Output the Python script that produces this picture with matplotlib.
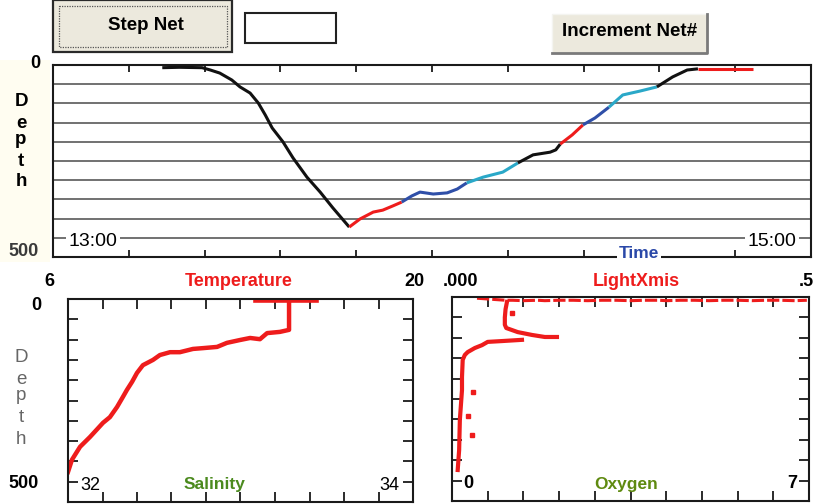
import numpy as np
import matplotlib
matplotlib.use('Agg')
import matplotlib.pyplot as plt
from matplotlib.patches import Rectangle

W, H = 825, 504
plt.rcParams['font.family'] = ['Liberation Sans', 'DejaVu Sans']

# net cast: minutes after 13:00 vs depth (m)
cast_time = [17.3, 20.0, 23.6, 24.9, 26.4, 28.3, 29.6, 31.2, 32.5, 33.6, 34.7, 36.4,
             38.0, 40.2, 42.3, 44.3, 46.9, 48.6, 50.7, 52.2, 53.8, 55.2, 56.8, 58.1,
             60.2, 62.4, 64.0, 65.5, 68.1, 71.2, 73.6, 76.0, 78.7, 79.6, 80.3, 82.2,
             83.9, 85.8, 88.0, 90.2, 92.9, 95.6, 98.1, 100.4, 102.1, 110.8]
cast_depth = [7, 6, 7, 13, 21, 39, 57, 73, 99, 130, 164, 200,
              242, 292, 331, 372, 422, 401, 383, 378, 367, 357, 341, 331,
              336, 333, 323, 307, 292, 279, 255, 234, 227, 221, 206, 182,
              156, 138, 110, 78, 68, 57, 31, 13, 10, 10]
# index where each net segment ends, and its colour
seg_ends = [16, 21, 27, 30, 34, 36, 38, 41, 44, 45]
seg_colors = ['#111111', '#ee1c1c', '#2f4fa8', '#2aa8c8', '#111111',
              '#ee1c1c', '#2f4fa8', '#2aa8c8', '#111111', '#ee1c1c']

# temperature profile
surf_temp = [13.6, 14.0, 14.5, 15.0, 15.5, 16.1]
surf_temp_depth = [4, 4, 4, 4, 4, 4]
prof_temp = [14.97, 14.97, 14.97, 14.60, 14.08, 13.79, 13.39, 12.98, 12.45, 12.05,
             11.48, 11.07, 10.54, 10.14, 9.73, 9.45, 9.04, 8.80, 8.60, 8.39, 8.23,
             7.99, 7.70, 7.42, 6.89, 6.49, 6.16, 6.0]
prof_temp_depth = [5, 39, 76, 81, 84, 99, 96, 101, 108, 118,
                   121, 123, 131, 131, 138, 150, 163, 182, 204, 224, 241,
                   266, 291, 305, 340, 364, 396, 426]

# light transmission
surf_light = [0.035, 0.075, 0.085, 0.10, 0.12, 0.13, 0.15, 0.17, 0.19, 0.21, 0.23,
              0.25, 0.27, 0.29, 0.30, 0.32, 0.34, 0.36, 0.38, 0.40, 0.42, 0.44,
              0.46, 0.48, 0.497]
surf_light_depth = [3, 8, 8, 9, 8, 9, 8, 8, 9, 8, 8,
                    9, 8, 8, 9, 8, 8, 9, 8, 8, 9, 8,
                    8, 9, 8]
upper_light = [0.077, 0.075, 0.074, 0.074, 0.076, 0.092, 0.112, 0.130, 0.147]
upper_light_depth = [12, 30, 50, 68, 76, 86, 93, 98, 98]
lower_light = [0.098, 0.070, 0.050, 0.042, 0.032, 0.022, 0.018, 0.015, 0.014,
               0.014, 0.011, 0.010, 0.008]
lower_light_depth = [105, 108, 110, 118, 125, 135, 142, 154, 196,
                     228, 301, 375, 424]
stray_light = [0.084, 0.029, 0.022, 0.028]
stray_light_depth = [39, 233, 292, 338]

RED = '#ee1c1c'

fig = plt.figure(figsize=(W / 100, H / 100), dpi=100)
fig.patch.set_facecolor('white')


def box(x0, y0, x1, y1, **kw):
    return fig.add_axes([x0 / W, 1 - y1 / H, (x1 - x0) / W, (y1 - y0) / H], **kw)


def frame(ax, tick_len):
    for s in ax.spines.values():
        s.set_linewidth(1.5)
        s.set_color('#1a1a1a')
    ax.tick_params(direction='in', length=tick_len, width=1.3, color='#1a1a1a',
                   labelbottom=False, labelleft=False, labeltop=False, labelright=False)


# depth vs time
ax = box(53, 65, 811, 257)
ax.set_xlim(0, 120)
ax.set_ylim(500, 0)
ax.set_xticks(np.linspace(0, 120, 11)[1:-1])
ax.set_yticks(np.arange(50, 500, 50))
ax.grid(axis='y', color='#4a4a4a', lw=1.1)
frame(ax, 5)
ax.tick_params(top=True, bottom=True, left=False, right=False)
start = 0
for end, c in zip(seg_ends, seg_colors):
    ax.plot(cast_time[start:end + 1], cast_depth[start:end + 1], color=c, lw=2.2,
            solid_capstyle='butt', zorder=3)
    start = end

# temperature / salinity
ax_t = box(68, 299, 413, 502)
ax_t.set_xlim(6, 20)
ax_t.set_ylim(500, 0)
ax_t.set_xticks(np.linspace(6, 20, 11)[1:-1])
ax_t.set_yticks(np.arange(50, 500, 50))
frame(ax_t, 7)
ax_t.tick_params(top=True, bottom=True, left=True, right=True)
ax_t.plot(surf_temp, surf_temp_depth, color=RED, lw=2.6)
ax_t.plot(prof_temp, prof_temp_depth, color=RED, lw=3.2, solid_joinstyle='round')

# light transmission / oxygen
ax_o = box(452, 297, 809, 501)
ax_o.set_xlim(0, 0.5)
ax_o.set_ylim(500, 0)
ax_o.set_xticks(np.linspace(0, 0.5, 11)[1:-1])
ax_o.set_yticks(np.arange(50, 500, 50))
frame(ax_o, 7)
ax_o.tick_params(top=True, bottom=True, left=True, right=True)
ax_o.plot(surf_light, surf_light_depth, color=RED, lw=2.2, ls=(0, (4, 1)))
ax_o.plot(upper_light, upper_light_depth, color=RED, lw=3, solid_joinstyle='round')
ax_o.plot(lower_light, lower_light_depth, color=RED, lw=3, solid_joinstyle='round')
ax_o.plot(stray_light, stray_light_depth, 's', color=RED, ms=2.5)

# overlay in pixel coordinates for the controls and labels
ov = fig.add_axes([0, 0, 1, 1], zorder=10)
ov.set_xlim(0, W)
ov.set_ylim(H, 0)
ov.axis('off')
ov.patch.set_alpha(0)

ov.add_patch(Rectangle((0, 60), 50, 202, facecolor='#fffdf1', edgecolor='none'))

# buttons
ov.add_patch(Rectangle((53, 0), 179, 52, facecolor='#ece9dd', edgecolor='#2a2a2a', lw=1.6))
ov.add_patch(Rectangle((59, 6), 168, 41, facecolor='none', edgecolor='#555555',
                       lw=0.9, ls=(0, (1, 1))))
ov.text(146, 26, 'Step Net', ha='center', va='center', fontsize=13.5, fontweight='bold')
ov.add_patch(Rectangle((245, 13), 91, 30, facecolor='white', edgecolor='#222222', lw=1.5))
ov.add_patch(Rectangle((552, 14), 155, 39, facecolor='#ece9dd', edgecolor='#f4f4f0', lw=1))
ov.plot([552, 707, 707], [53, 53, 14], color='#7a7a7a', lw=2)
ov.text(630, 32, 'Increment Net#', ha='center', va='center', fontsize=13.5, fontweight='bold')

wb = dict(facecolor='white', edgecolor='none', pad=1.5)

# top panel labels
ov.text(35, 63, '0', ha='center', va='center', fontsize=13, fontweight='bold')
ov.text(24, 251, '500', ha='center', va='center', fontsize=13, fontweight='bold', color='#3a3a3a')
for ch, y in zip('Depth', [102, 124, 140, 162, 181]):
    ov.text(21, y, ch, ha='center', va='center', fontsize=13.5, fontweight='bold')
ov.text(93, 241, '13:00', ha='center', va='center', fontsize=14, bbox=wb)
ov.text(772, 241, '15:00', ha='center', va='center', fontsize=14, bbox=wb)
ov.text(639, 253, 'Time', ha='center', va='center', fontsize=12.5, fontweight='bold',
        color='#2a48a8', bbox=wb)

# temperature panel labels
ov.text(49, 281, '6', ha='center', va='center', fontsize=13, fontweight='bold')
ov.text(239, 281, 'Temperature', ha='center', va='center', fontsize=13,
        fontweight='bold', color=RED)
ov.text(414, 281, '20', ha='center', va='center', fontsize=13, fontweight='bold')
ov.text(36, 306, '0', ha='center', va='center', fontsize=13, fontweight='bold')
for ch, y in zip('Depth', [357, 380, 396, 418, 440]):
    ov.text(21, y, ch, ha='center', va='center', fontsize=13.5, color='#666666')
ov.text(24, 484, '500', ha='center', va='center', fontsize=13, fontweight='bold')
ov.text(90, 485, '32', ha='center', va='center', fontsize=13)
ov.text(215, 485, 'Salinity', ha='center', va='center', fontsize=12.5,
        fontweight='bold', color='#4b8a1e')
ov.text(389, 485, '34', ha='center', va='center', fontsize=13)

# light / oxygen panel labels
ov.text(461, 281, '.000', ha='center', va='center', fontsize=13, fontweight='bold')
ov.text(636, 281, 'LightXmis', ha='center', va='center', fontsize=13,
        fontweight='bold', color=RED)
ov.text(806, 281, '.5', ha='center', va='center', fontsize=13, fontweight='bold')
ov.text(468, 484, '0', ha='center', va='center', fontsize=13, fontweight='bold')
ov.text(626, 484, 'Oxygen', ha='center', va='center', fontsize=12.5,
        fontweight='bold', color='#5f8a10')
ov.text(792, 484, '7', ha='center', va='center', fontsize=13, fontweight='bold')

fig.savefig('out.png', dpi=100)
